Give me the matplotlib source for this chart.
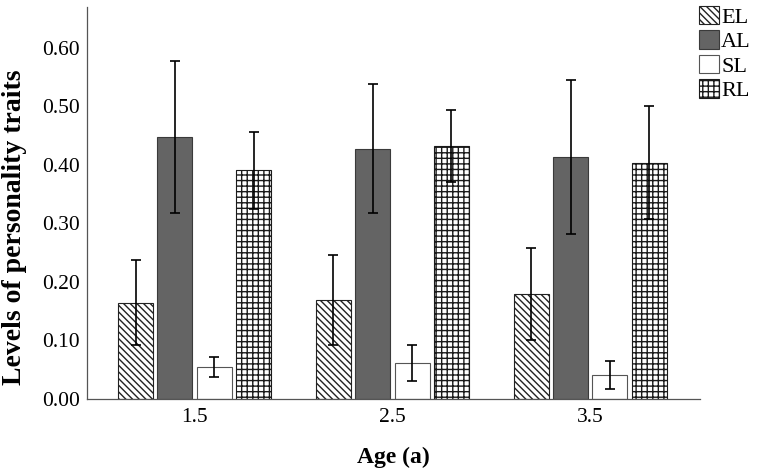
import matplotlib
matplotlib.use("Agg")
import matplotlib.pyplot as plt
import numpy as np

plt.rcParams['font.family'] = ['Liberation Serif', 'DejaVu Serif']
plt.rcParams['hatch.linewidth'] = 1.0

ages = ["1.5", "2.5", "3.5"]
series = ["EL", "AL", "SL", "RL"]
EL = [0.164, 0.168, 0.179]
AL = [0.447, 0.428, 0.414]
SL = [0.054, 0.061, 0.041]
RL = [0.391, 0.432, 0.404]
EL_err = [0.073, 0.077, 0.079]
AL_err = [0.130, 0.110, 0.132]
SL_err = [0.017, 0.031, 0.024]
RL_err = [0.066, 0.062, 0.096]

values = [EL, AL, SL, RL]
errors = [EL_err, AL_err, SL_err, RL_err]
styles = [
    dict(facecolor='white', edgecolor='#222222', hatch='\\\\\\\\\\'),
    dict(facecolor='#646464', edgecolor='#3a3a3a', hatch=None),
    dict(facecolor='white', edgecolor='#555555', hatch=None),
    dict(facecolor='white', edgecolor='#1a1a1a', hatch='+++'),
]

fig = plt.figure(figsize=(7.58, 4.74), dpi=100)
ax = fig.add_axes([0.1145, 0.159, 0.809, 0.826])

x = np.arange(len(ages))
width = 0.177
step = 0.199
offsets = (np.arange(4) - 1.5) * step
handles = []
for i, (vals, errs, st) in enumerate(zip(values, errors, styles)):
    b = ax.bar(x + offsets[i], vals, width, linewidth=0.8, label=series[i], **st)
    ax.errorbar(x + offsets[i], vals, yerr=errs, fmt='none', ecolor='black',
                elinewidth=1.2, capsize=3.5, capthick=1.2)
    handles.append(b)

ax.set_xlim(-0.545, 2.555)
ax.set_ylim(0, 0.67)
ticks = np.arange(0, 0.61, 0.1)
ax.set_yticks(ticks)
ax.set_yticklabels([f"{v:.2f}" for v in ticks], fontsize=15.5)
ax.set_xticks(x)
ax.set_xticklabels(ages, fontsize=15.5)
ax.tick_params(axis='y', length=0, pad=5)
ax.tick_params(axis='x', length=0, pad=7)
for s in ['top', 'right']:
    ax.spines[s].set_visible(False)
for s in ['left', 'bottom']:
    ax.spines[s].set_color('#555555')
    ax.spines[s].set_linewidth(0.9)

ax.set_xlabel("Age (a)", fontsize=17, fontweight='bold', labelpad=14)
ax.set_ylabel("Levels of personality traits", fontsize=20, fontweight='bold')
ax.yaxis.set_label_coords(-0.097, 0.437)

leg = fig.legend(handles=handles, labels=series, loc='upper left',
                 bbox_to_anchor=(0.922, 0.988), frameon=False, fontsize=16,
                 handlelength=0.9, handleheight=0.9, handletextpad=0.1,
                 labelspacing=0.12, borderaxespad=0, borderpad=0.0)

fig.savefig("out.png", dpi=100)
